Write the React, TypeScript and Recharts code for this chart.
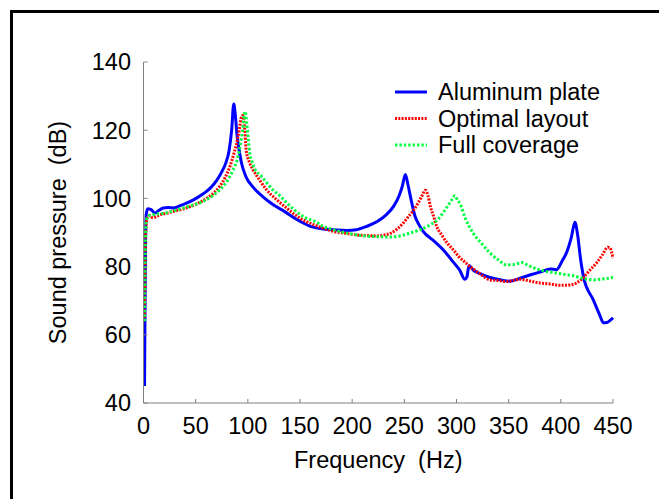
import { LineChart, Line, XAxis, YAxis, Legend } from "recharts";

const FONT = '"Liberation Sans", Arial, Helvetica, sans-serif';
const AXIS = "#808080";
const FONT_SIZE = 23.5;

const xTicks = [0, 50, 100, 150, 200, 250, 300, 350, 400, 450];
const yTicks = [40, 60, 80, 100, 120, 140];

// Aluminum plate
const alFreq = [
  1, 1.5, 2.5, 4, 7, 11, 15, 19, 24, 29,
  33, 37, 45, 52, 58, 64, 70, 75, 79, 82,
  84.5, 86.5, 88, 89.5, 91.5, 94, 98, 105, 114, 124,
  135, 147, 160, 172, 182, 195, 204, 214, 224, 232,
  240, 245, 248, 251, 253.5, 256, 260, 264, 268, 278,
  287, 297, 303, 308, 310, 312, 316, 322, 332, 341,
  351, 361, 371, 381, 390, 396, 401, 406, 410, 413.5,
  416, 419, 422, 431, 437, 441, 444, 450,
];
const alSpl = [
  45, 70, 95, 97, 96.8, 95.7, 96.5, 97.2, 97.3, 97.2,
  97.6, 98.1, 99.1, 100.3, 101.5, 103, 105.2, 107.8, 110.5, 114,
  120, 127.7, 124.5, 119, 114.5, 110.3, 106.5, 103.3, 100.6, 98.2,
  96.2, 93.8, 91.8, 91, 90.8, 90.6, 90.8, 91.8, 93.2, 95,
  97.8, 100.8, 103.5, 107, 104, 100.3, 95, 92.3, 90.3, 87.6,
  85, 81.3, 79, 76.3, 77, 80.3, 79, 78, 76.8, 76.2,
  75.7, 76.6, 77.6, 78.5, 79.3, 79.1, 81.5, 84.5, 88.5, 93,
  89.5, 82, 76.6, 70.3, 66, 63.5, 63.6, 65,
];

// Optimal layout
const optFreq = [
  1, 1.5, 2.5, 4, 6, 9, 13, 17, 22, 29,
  36, 45, 53, 61, 68, 73, 78, 83, 87, 90,
  92, 93.5, 95, 96.5, 98.5, 101, 105, 111, 118, 127,
  137, 150, 163, 172, 182, 193, 204, 214, 224, 231,
  237, 243, 249, 254, 259, 263, 267, 270, 272.5, 275,
  278, 281, 286, 291, 297, 302, 307, 313, 322, 332,
  340, 348, 355, 361, 370, 380, 390, 399, 408, 415,
  421, 428, 434, 440, 445, 447, 450,
];
const optSpl = [
  64, 80, 92, 94.5, 95, 94.3, 94.8, 95.3, 95.6, 96.2,
  96.7, 97.6, 98.7, 100.1, 101.8, 103.5, 106, 109.5, 113.5, 117.2,
  120.5, 123.5, 124.3, 122, 114, 111, 108.4, 105.5, 102.5, 99.8,
  97.2, 94.2, 92.3, 91.3, 90.3, 89.8, 89.3, 89.1, 89, 89.3,
  89.8, 91, 92.8, 94.7, 96.6, 98.5, 100.8, 102.4, 101, 97.6,
  94.8, 91.8, 89.2, 86.9, 84.9, 83, 81.6, 80, 78, 76.1,
  75.9, 75.6, 76, 76.3, 75.8, 75.2, 74.9, 74.5, 74.6, 75.2,
  76.6, 79, 81, 83.5, 85.7, 85.5, 82.5,
];

// Full coverage
const fullFreq = [
  1, 1.5, 2.5, 4, 9, 15, 22, 30, 38, 48,
  57, 65, 73, 80, 86, 90, 92.5, 95, 97.3, 99,
  100.5, 102, 104, 107, 111.7, 117, 124, 131, 137, 145,
  156, 165, 172, 180, 188, 199, 211, 223, 236, 246,
  255, 265, 275, 282, 287, 292, 296, 298.6, 301, 303.5,
  308, 316, 324, 332, 340, 348, 355, 362.5, 369, 377,
  386, 396, 404, 412, 418, 425, 432, 438, 444, 450,
];
const fullSpl = [
  64, 82, 93, 94.7, 95.2, 95.5, 95.8, 96.5, 97.2, 98.1,
  99.1, 100.5, 102.5, 105, 108.4, 111.5, 115.2, 120, 125.5, 122,
  117.2, 113, 110.8, 108.4, 106.9, 105, 102.5, 100.7, 98.8, 96.5,
  94.2, 93.2, 91.8, 91, 90.3, 89.6, 89, 88.8, 88.7, 89,
  89.8, 90.8, 92.3, 93.8, 95.7, 98, 99.8, 100.8, 99.5, 98.4,
  94.5, 89.8, 86.8, 84, 82, 80.5, 80.6, 81.2, 80.3, 79.3,
  78.6, 78.1, 77.7, 77.3, 76.8, 76.3, 76.1, 76.3, 76.5, 76.9,
];

const toPoints = (freqs: number[], spls: number[]) =>
  freqs.map((freq, i) => ({ freq, spl: spls[i] }));

const series = [
  { name: "Aluminum plate", data: toPoints(alFreq, alSpl), color: "#0000ff", dash: undefined },
  { name: "Optimal layout", data: toPoints(optFreq, optSpl), color: "#ff0000", dash: "2 1.3" },
  { name: "Full coverage", data: toPoints(fullFreq, fullSpl), color: "#00ff40", dash: "2.4 2" },
];

const labelText = { fontSize: FONT_SIZE, fontFamily: FONT, fill: "#000" };

// ticks point inward, so draw them ourselves next to the labels
const BottomTick = ({ x, y, payload }: any) => (
  <g>
    <line x1={x} y1={y} x2={x} y2={y - 4} stroke={AXIS} />
    <text x={x} y={y + 30.5} textAnchor="middle" {...labelText}>
      {payload.value}
    </text>
  </g>
);

const LeftTick = ({ x, y, payload }: any) => (
  <g>
    <line x1={x} y1={y} x2={x + 4} y2={y} stroke={AXIS} />
    <text x={x - 12.5} y={y + 8.3} textAnchor="end" {...labelText}>
      {payload.value}
    </text>
  </g>
);

const TopTick = ({ x, y }: any) => (
  <line x1={x} y1={y} x2={x} y2={y + 4} stroke={AXIS} />
);

const RightTick = ({ x, y }: any) => (
  <line x1={x} y1={y} x2={x - 4} y2={y} stroke={AXIS} />
);

const renderLegend = () => (
  <svg width={240} height={85} style={{ display: "block" }}>
    {series.map((s, i) => {
      const cy = 17 + i * 26.5;
      return (
        <g key={s.name}>
          <line
            x1={5}
            x2={37}
            y1={cy}
            y2={cy}
            stroke={s.color}
            strokeWidth={3}
            strokeDasharray={s.dash}
          />
          <text x={48} y={cy + 8.3} {...labelText}>
            {s.name}
          </text>
        </g>
      );
    })}
  </svg>
);

export default function App() {
  return (
    <div
      style={{
        position: "absolute",
        left: 0,
        top: 0,
        width: 659,
        height: 499,
        overflow: "hidden",
        background: "#fff",
      }}
    >
      <div
        style={{
          position: "absolute",
          left: 10,
          top: 10,
          width: 700,
          height: 600,
          borderTop: "3px solid #000",
          borderLeft: "3px solid #000",
        }}
      />
      <LineChart
        width={659}
        height={499}
        margin={{ top: 62, right: 46, bottom: 26, left: 0 }}
      >
        <XAxis
          xAxisId="bottom"
          type="number"
          dataKey="freq"
          domain={[0, 450]}
          ticks={xTicks}
          interval={0}
          height={70}
          tickSize={0}
          tickMargin={0}
          tickLine={false}
          axisLine={{ stroke: AXIS }}
          tick={<BottomTick />}
          label={{
            value: "Frequency\u00A0 (Hz)",
            position: "insideBottom",
            offset: 5,
            style: { fontSize: FONT_SIZE, fontFamily: FONT, fill: "#000" },
          }}
        />
        <XAxis
          xAxisId="top"
          orientation="top"
          type="number"
          dataKey="freq"
          domain={[0, 450]}
          ticks={xTicks}
          interval={0}
          height={0}
          tickSize={0}
          tickMargin={0}
          tickLine={false}
          axisLine={{ stroke: AXIS }}
          tick={<TopTick />}
        />
        <YAxis
          yAxisId="left"
          type="number"
          domain={[40, 140]}
          ticks={yTicks}
          interval={0}
          width={143.5}
          tickSize={0}
          tickMargin={0}
          tickLine={false}
          axisLine={{ stroke: AXIS }}
          tick={<LeftTick />}
          label={{
            value: "Sound pressure\u00A0 (dB)",
            angle: -90,
            position: "insideLeft",
            offset: 58,
            style: { fontSize: FONT_SIZE, fontFamily: FONT, fill: "#000", textAnchor: "middle" },
          }}
        />
        <YAxis
          yAxisId="right"
          orientation="right"
          type="number"
          domain={[40, 140]}
          ticks={yTicks}
          interval={0}
          width={0}
          tickSize={0}
          tickMargin={0}
          tickLine={false}
          axisLine={{ stroke: AXIS }}
          tick={<RightTick />}
        />
        {series.map((s) => (
          <Line
            key={s.name}
            xAxisId="bottom"
            yAxisId="left"
            data={s.data}
            dataKey="spl"
            name={s.name}
            type="monotone"
            stroke={s.color}
            strokeWidth={3}
            strokeDasharray={s.dash}
            dot={false}
            activeDot={false}
            isAnimationActive={false}
          />
        ))}
        <Legend
          layout="vertical"
          align="center"
          verticalAlign="middle"
          wrapperStyle={{ left: 390, top: 75, width: 240, height: 85 }}
          content={renderLegend}
        />
      </LineChart>
    </div>
  );
}
